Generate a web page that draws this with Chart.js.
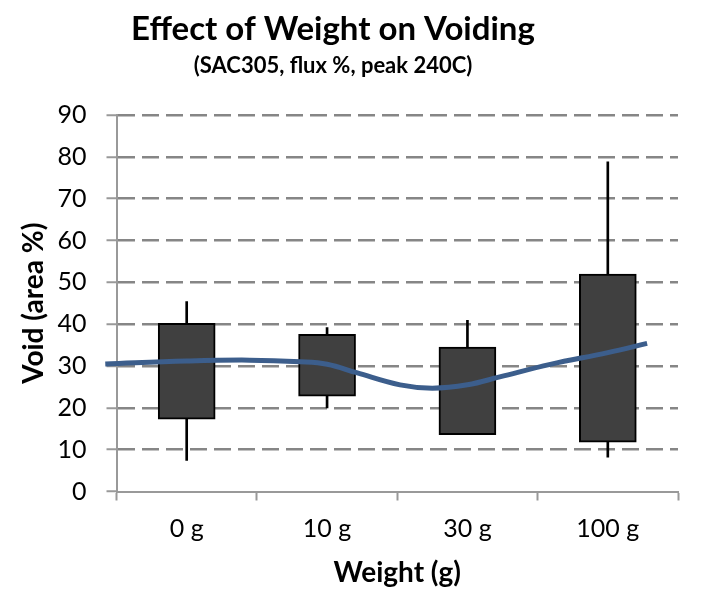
<!DOCTYPE html>
<html>
<head>
<meta charset="utf-8">
<script src="https://cdn.jsdelivr.net/npm/chart.js@4/dist/chart.umd.min.js"></script>
<style>
    body { margin: 0; background: #fff; }
    #wrap { width: 710px; height: 599px; }
</style>
</head>
<body>
<div id="wrap"><canvas id="chart"></canvas></div>
<script>
const titleText = "Effect of Weight on Voiding";
const subtitleText = "(SAC305, flux %, peak 240C)";

const categories = ["0 g", "10 g", "30 g", "100 g"];
// box = lower / upper edge, whisker = min / max
const boxLow = [17.3, 22.8, 13.6, 11.8];
const boxHigh = [40.2, 37.6, 34.5, 52.0];
const whiskerLow = [7.4, 20.0, 13.6, 8.2];
const whiskerHigh = [45.4, 39.2, 40.9, 78.8];

// smoothed trend line, x in category units (0 = "0 g")
const lineX = [-0.58, 0, 0.45, 0.81, 1.0, 1.21, 1.52, 1.75, 2.0, 2.23, 2.59, 3.0, 3.28];
const lineY = [30.5, 31.2, 31.4, 31.0, 30.4, 28.4, 25.5, 24.7, 25.5, 27.4, 30.4, 33.2, 35.4];

const yTicks = [0, 10, 20, 30, 40, 50, 60, 70, 80, 90];

const axisGrey = "#999999";
const gridGrey = "#868686";
const fontName = "Lato";

const titlePlugin = {
    id: "titles",
    afterDraw(chart) {
        const ctx = chart.ctx;
        ctx.save();
        ctx.fillStyle = "#000";
        ctx.textAlign = "center";
        ctx.textBaseline = "middle";
        ctx.font = "bold 33px " + fontName;
        ctx.fillText(titleText, 333, 29);
        ctx.font = "bold 22px " + fontName;
        ctx.fillText(subtitleText, 333, 66);
        ctx.restore();
    }
};

const ctx = document.getElementById("chart").getContext("2d");

const chart = new Chart(ctx, {
    data: {
        labels: categories,
        datasets: [
            {
                type: "bar",
                label: "whisker",
                data: categories.map((c, i) => [whiskerLow[i], whiskerHigh[i]]),
                backgroundColor: "#000",
                barThickness: 2,
                grouped: false,
                order: 3
            },
            {
                type: "bar",
                label: "box",
                data: categories.map((c, i) => [boxLow[i], boxHigh[i]]),
                backgroundColor: "#404040",
                borderColor: "#000",
                borderWidth: 2,
                borderSkipped: false,
                barThickness: 57,
                grouped: false,
                order: 2
            },
            {
                type: "line",
                label: "trend",
                xAxisID: "x2",
                data: lineX.map((x, i) => ({ x: x, y: lineY[i] })),
                borderColor: "#3C5E8C",
                borderWidth: 5,
                tension: 0.4,
                pointRadius: 0,
                clip: false,
                order: 1
            }
        ]
    },
    options: {
        responsive: true,
        maintainAspectRatio: false,
        animation: false,
        layout: {
            padding: { top: 115, left: 14, right: 32, bottom: 5 }
        },
        plugins: {
            legend: { display: false },
            tooltip: { enabled: false }
        },
        scales: {
            x: {
                type: "category",
                offset: true,
                afterFit: (scale) => { scale.height = 102.5; },
                grid: {
                    offset: true,
                    drawOnChartArea: false,
                    drawTicks: true,
                    tickLength: 9,
                    tickColor: axisGrey,
                    tickWidth: 2
                },
                border: { color: axisGrey, width: 2 },
                ticks: {
                    color: "#000",
                    padding: 13,
                    font: { family: fontName, size: 25 }
                },
                title: {
                    display: true,
                    text: "Weight (g)",
                    color: "#000",
                    padding: { top: 4, bottom: 4 },
                    font: { family: fontName, size: 28, weight: "bold" }
                }
            },
            x2: {
                type: "linear",
                display: false,
                min: -0.5,
                max: 3.5
            },
            y: {
                min: 0,
                max: 90,
                afterBuildTicks: (scale) => {
                    scale.ticks = yTicks.map(v => ({ value: v }));
                },
                afterFit: (scale) => { scale.width = 102.5; },
                grid: {
                    color: (c) => c.tick && c.tick.value === 0 ? "rgba(0,0,0,0)" : gridGrey,
                    lineWidth: 2.5,
                    tickLength: 10,
                    tickColor: axisGrey,
                    tickWidth: 2
                },
                border: { color: axisGrey, width: 2, dash: [17, 7] },
                ticks: {
                    color: "#000",
                    padding: 20,
                    font: { family: fontName, size: 25 }
                },
                title: {
                    display: true,
                    text: "Void (area %)",
                    color: "#000",
                    padding: { top: 3, bottom: 4 },
                    font: { family: fontName, size: 28, weight: "bold" }
                }
            }
        }
    },
    plugins: [titlePlugin]
});
</script>
</body>
</html>
